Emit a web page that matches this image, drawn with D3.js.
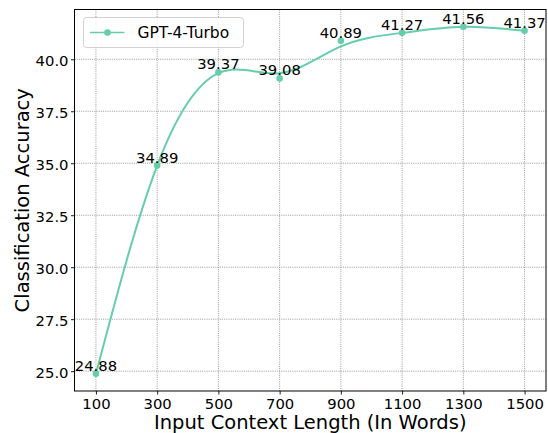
<!DOCTYPE html>
<html>
<head>
<meta charset="utf-8">
<script src="https://cdn.jsdelivr.net/npm/d3@7"></script>
<style>
  html, body { margin: 0; padding: 0; background: #fff; }
  svg { display: block; font-family: "DejaVu Sans", sans-serif; }
</style>
</head>
<body>
<svg id="chart" width="548" height="433"></svg>
<script>
// ---- data ----
const contextLengths = [100, 300, 500, 700, 900, 1100, 1300, 1500];
const accuracy = [24.88, 34.89, 39.37, 39.08, 40.89, 41.27, 41.56, 41.37];
// smoothed trend line as drawn in the reference
const smoothAccuracy = [24.88, 34.89, 39.33, 39.33, 40.62, 41.27, 41.56, 41.37];
const xTicks = [100, 300, 500, 700, 900, 1100, 1300, 1500];
const yTicks = [25.0, 27.5, 30.0, 32.5, 35.0, 37.5, 40.0];
const seriesName = "GPT-4-Turbo";

// ---- layout ----
const W = 548, H = 433;
const plot = { left: 74.5, right: 546, top: 9.5, bottom: 391 };
const color = "#66CDAA";

const svg = d3.select("#chart");

const xExt = d3.extent(contextLengths);
const xPad = (xExt[1] - xExt[0]) * 0.05;
const yExt = d3.extent(accuracy);
const yPad = (yExt[1] - yExt[0]) * 0.05;

const x = d3.scaleLinear().domain([xExt[0] - xPad, xExt[1] + xPad]).range([plot.left, plot.right]);
const y = d3.scaleLinear().domain([yExt[0] - yPad, yExt[1] + yPad]).range([plot.bottom, plot.top]);

svg.append("rect").attr("width", W).attr("height", H).attr("fill", "#fff");

// grid
const grid = svg.append("g");
grid.selectAll("line.vx").data(xTicks).join("line")
  .attr("x1", d => x(d)).attr("x2", d => x(d))
  .attr("y1", plot.top).attr("y2", plot.bottom)
  .attr("stroke", "#8c8c8c").attr("stroke-width", 0.9).attr("stroke-dasharray", "1,1.2");
grid.selectAll("line.hy").data(yTicks).join("line")
  .attr("x1", plot.left).attr("x2", plot.right)
  .attr("y1", d => y(d)).attr("y2", d => y(d))
  .attr("stroke", "#8c8c8c").attr("stroke-width", 0.9).attr("stroke-dasharray", "1,1.2");

// axes
const xAxis = d3.axisBottom(x).tickValues(xTicks).tickSize(3.5).tickPadding(3.5).tickFormat(d3.format("d"));
const yAxis = d3.axisLeft(y).tickValues(yTicks).tickSize(3.5).tickPadding(2.5).tickFormat(d3.format(".1f"));

const gx = svg.append("g").attr("transform", `translate(0,${plot.bottom})`).call(xAxis);
const gy = svg.append("g").attr("transform", `translate(${plot.left},0)`).call(yAxis);
[gx, gy].forEach(g => {
  g.select(".domain").remove();
  g.selectAll(".tick line").attr("stroke", "#000").attr("stroke-width", 0.9);
  g.selectAll(".tick text").attr("fill", "#000").attr("font-size", "14.8px")
    .attr("font-family", "DejaVu Sans, sans-serif");
});
gy.selectAll(".tick text").attr("dy", "0.4em");

// frame
svg.append("rect")
  .attr("x", plot.left).attr("y", plot.top)
  .attr("width", plot.right - plot.left).attr("height", plot.bottom - plot.top)
  .attr("fill", "none").attr("stroke", "#000").attr("stroke-width", 1);

// line
const lineData = contextLengths.map((c, i) => [c, smoothAccuracy[i]]);
const line = d3.line().x(d => x(d[0])).y(d => y(d[1])).curve(d3.curveNatural);
svg.append("path").datum(lineData)
  .attr("d", line).attr("fill", "none")
  .attr("stroke", color).attr("stroke-width", 2);

// points
const pts = contextLengths.map((c, i) => ({ c, v: accuracy[i] }));
svg.selectAll("circle.pt").data(pts).join("circle")
  .attr("cx", d => x(d.c)).attr("cy", d => y(d.v)).attr("r", 3.3)
  .attr("fill", color);

// value labels
svg.selectAll("text.val").data(pts).join("text")
  .attr("x", d => x(d.c)).attr("y", d => y(d.v) - 3)
  .attr("text-anchor", "middle").attr("font-size", "14.8px").attr("fill", "#000")
  .text(d => d.v.toFixed(2));

// axis titles
svg.append("text")
  .attr("x", (plot.left + plot.right) / 2).attr("y", 429)
  .attr("text-anchor", "middle").attr("font-size", "19.5px").attr("fill", "#000")
  .text("Input Context Length (In Words)");
svg.append("text")
  .attr("transform", `translate(29,${(plot.top + plot.bottom) / 2}) rotate(-90)`)
  .attr("text-anchor", "middle").attr("font-size", "19.5px").attr("fill", "#000")
  .text("Classification Accuracy");

// legend
const lg = svg.append("g");
lg.append("rect").attr("x", 83.5).attr("y", 17.5).attr("width", 160).attr("height", 30)
  .attr("rx", 3).attr("fill", "#fff").attr("fill-opacity", 0.8)
  .attr("stroke", "#d0d0d0").attr("stroke-width", 1);
lg.append("line").attr("x1", 90).attr("x2", 124.5).attr("y1", 32.5).attr("y2", 32.5)
  .attr("stroke", color).attr("stroke-width", 1.5);
lg.append("circle").attr("cx", 107.5).attr("cy", 32.5).attr("r", 3.3).attr("fill", color);
lg.append("text").attr("x", 137.5).attr("y", 38).attr("font-size", "15.5px").attr("fill", "#000")
  .text(seriesName);
</script>
</body>
</html>
